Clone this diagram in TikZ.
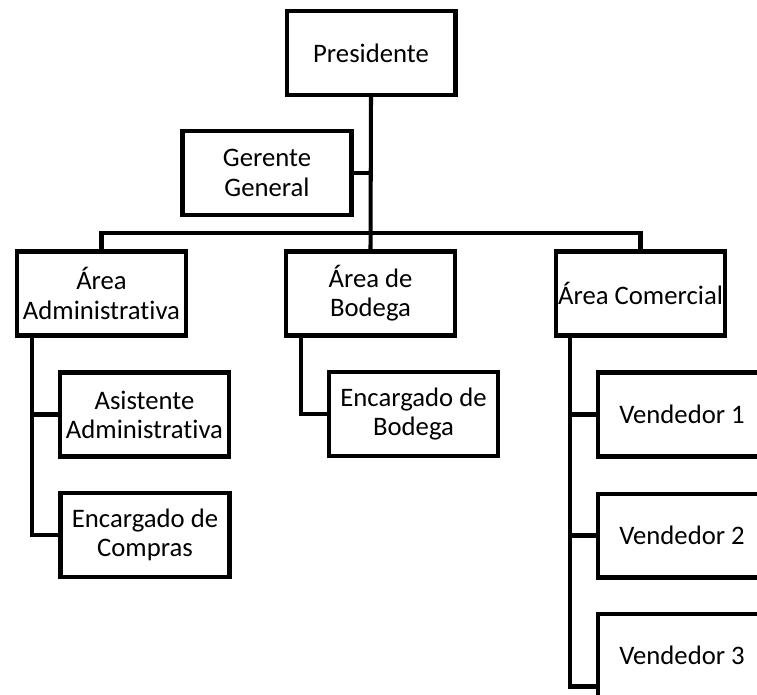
\documentclass[tikz,border=0pt]{standalone}
\usepackage{fontspec}
\setmainfont{Carlito}[Ligatures = NoCommon]
\usetikzlibrary{calc}

\tikzset{
	caja/.style = {draw, line width = 2.3pt, minimum width = 3.38cm, minimum height = 1.68cm,
		align = center, inner sep = 1pt, font = \fontsize{15.2}{16.6}\selectfont},
	rama/.style = {line width = 2.3pt}
}

\begin{document}
\begin{tikzpicture}[x = 0.02cm, y = -0.02cm]
					\useasboundingbox (0, 0) rectangle (757, 694);
					\clip (0, 0) rectangle (757, 694);

					\node[caja] (pres) at (371, 53) {Presidente};
					\node[caja] (ger) at (267, 173) {Gerente\\General};

					\node[caja] (adm) at (101.5, 293.5) {Área\\Administrativa};
					\node[caja] (bod) at (370.5, 293.5) {Área de\\Bodega};
					\node[caja] (com) at (640.5, 293.5) {Área Comercial};

					\node[caja] (asi) at (144.5, 414.5) {Asistente\\Administrativa};
					\node[caja] (compras) at (145, 535) {Encargado de\\Compras};
					\node[caja] (encb) at (413.5, 414) {Encargado de\\Bodega};

					\node[caja] (ven1) at (682, 414.5) {Vendedor 1};
					\node[caja] (ven2) at (682, 535.5) {Vendedor 2};
					\node[caja] (ven3) at (682, 655.5) {Vendedor 3};

					\coordinate (barra) at (371, 233);
					\coordinate (admpie) at ($(adm.south west) + (17, 0)$);
					\coordinate (bodpie) at ($(bod.south west) + (17, 0)$);
					\coordinate (compie) at ($(com.south west) + (16, 0)$);
					\coordinate (ven3pie) at ($(ven3.west) + (0, 31)$);

					\draw[rama] (pres.south) -- (bod.north);
					\draw[rama] (ger.east) -- (ger.east -| pres.south);
					\draw[rama] (adm.north) |- (barra) -| (com.north);

					\draw[rama] (admpie) |- (asi.west);
					\draw[rama] (admpie) |- (compras.west);
					\draw[rama] (bodpie) |- (encb.west);
					\draw[rama] (compie) |- (ven1.west);
					\draw[rama] (compie) |- (ven2.west);
					\draw[rama] (compie) |- (ven3pie);
				\end{tikzpicture}
\end{document}
